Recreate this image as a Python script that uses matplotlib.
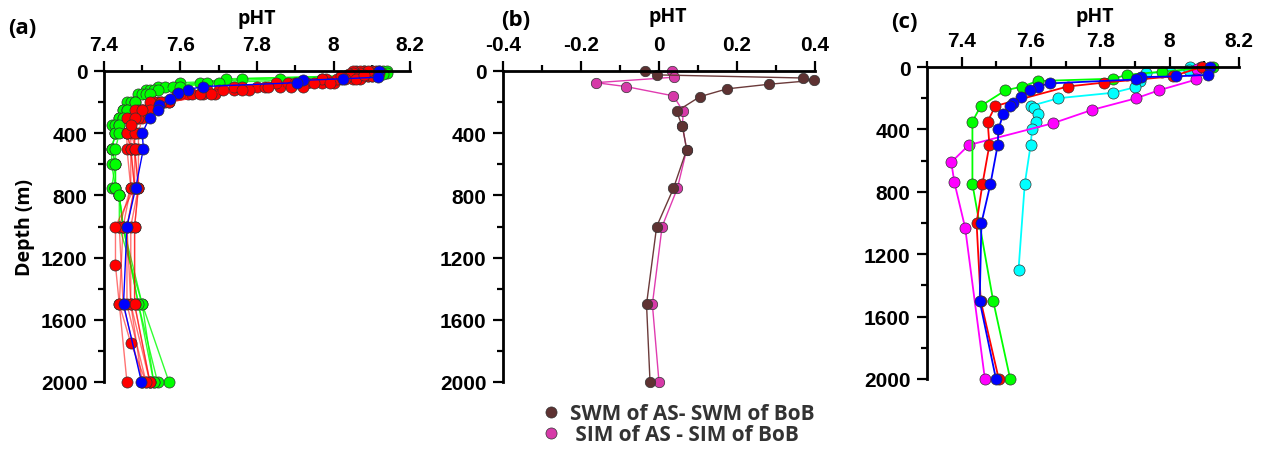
import matplotlib
matplotlib.use("Agg")
import matplotlib.pyplot as plt
from matplotlib.lines import Line2D
from matplotlib.ticker import MultipleLocator, FormatStrFormatter

# ---------------- panel (a): individual profiles ----------------
red_depth = [0, 10, 20, 30, 50, 75, 100, 125, 150, 200, 250, 300, 400, 500, 750, 1000, 1500, 2000]
red_profiles = [
    [8.08, 8.08, 8.07, 8.06, 8.02, 7.93, 7.80, 7.70, 7.62, 7.54, 7.50, 7.48, 7.47, 7.47, 7.48, 7.46, 7.46, 7.51],
    [8.10, 8.10, 8.09, 8.08, 8.05, 7.97, 7.86, 7.74, 7.66, 7.56, 7.51, 7.49, 7.48, 7.48, 7.49, 7.47, 7.47, 7.52],
    [8.06, 8.06, 8.05, 8.03, 7.98, 7.88, 7.76, 7.67, 7.60, 7.53, 7.49, 7.47, 7.46, 7.46, 7.47, 7.44, 7.45, 7.50],
    [8.11, 8.11, 8.10, 8.09, 8.07, 8.00, 7.92, 7.78, 7.69, 7.57, 7.52, 7.50, 7.49, 7.49, 7.49, 7.48, 7.48, 7.52],
    [8.07, 8.07, 8.06, 8.05, 8.01, 7.90, 7.82, 7.71, 7.63, 7.55, 7.50, 7.47, 7.46, 7.47, 7.47, 7.45, 7.44, 7.46],
    [8.05, 8.05, 8.04, 8.02, 7.97, 7.85, 7.74, 7.66, 7.59, 7.52, 7.48, 7.46, 7.46, 7.47, 7.48, 7.46, 7.47, 7.50],
    [8.12, 8.12, 8.11, 8.10, 8.06, 7.99, 7.89, 7.76, 7.68, 7.57, 7.52, 7.49, 7.48, 7.48, 7.49, 7.48, 7.48, 7.52],
]
red_extra_depth = [0, 25, 50, 75, 100, 150, 200, 250, 300, 350, 500, 750, 1000, 1250, 1500, 1750, 2000]
red_extra = [8.09, 8.08, 8.03, 7.95, 7.83, 7.65, 7.55, 7.50, 7.48, 7.47, 7.48, 7.48, 7.43, 7.43, 7.44, 7.47, 7.51]

green_depth = [0, 10, 20, 30, 50, 75, 100, 125, 150, 200, 250, 300, 350, 400, 500, 600, 750, 800, 1000, 1500, 2000]
green_profiles = [
    [8.13, 8.13, 8.12, 8.10, 7.86, 7.60, 7.54, 7.51, 7.49, 7.46, 7.45, 7.44, 7.42, 7.43, 7.42, 7.43, 7.42, 7.44, 7.45, 7.50, 7.57],
    [8.14, 8.14, 8.13, 8.09, 7.72, 7.65, 7.56, 7.52, 7.50, 7.47, 7.45, 7.44, 7.43, 7.43, 7.42, 7.43, 7.43, 7.44, 7.45, 7.49, 7.54],
    [8.10, 8.10, 8.09, 8.04, 7.76, 7.67, 7.58, 7.53, 7.51, 7.48, 7.46, 7.45, 7.44, 7.43, 7.42, 7.42, 7.43, 7.44, 7.44, 7.50, 7.53],
    [8.08, 8.08, 8.06, 8.03, 7.97, 7.70, 7.60, 7.54, 7.52, 7.48, 7.46, 7.45, 7.44, 7.44, 7.43, 7.43, 7.43, 7.44, 7.45, 7.49, 7.53],
]

blue_depth_a = [0, 40, 50, 60, 75, 100, 120, 140, 180, 220, 250, 300, 400, 500, 750, 1000, 1500, 2000]
blue_a = [8.118, 8.117, 8.024, 7.92, 7.905, 7.658, 7.619, 7.594, 7.572, 7.545, 7.54, 7.519,
          7.50, 7.503, 7.483, 7.46, 7.451, 7.498]

# ---------------- panel (b): differences ----------------
swm_depth = [0, 25, 45, 60, 85, 115, 165, 260, 355, 505, 755, 1000, 1500, 2000]
swm_diff = [-0.036, -0.006, 0.370, 0.398, 0.283, 0.174, 0.105, 0.045, 0.060, 0.071, 0.037, -0.006, -0.032, -0.023]
sim_depth = [0, 40, 75, 100, 160, 260, 355, 505, 755, 1000, 1500, 2000]
sim_diff = [0.034, 0.038, -0.162, -0.085, 0.037, 0.062, 0.060, 0.071, 0.047, 0.008, -0.017, 0.0]
legend_labels = ["SWM of AS- SWM of BoB", " SIM of AS - SIM of BoB"]

# ---------------- panel (c): mean profiles ----------------
red_c_depth = [0, 60, 100, 125, 250, 350, 500, 750, 1000, 1500, 2000]
red_c = [8.092, 8.009, 7.81, 7.706, 7.497, 7.475, 7.48, 7.46, 7.443, 7.455, 7.507]
green_c_depth = [0, 30, 50, 75, 90, 125, 150, 250, 350, 750, 1000, 1500, 2000]
green_c = [8.126, 7.978, 7.878, 7.837, 7.619, 7.575, 7.526, 7.455, 7.431, 7.431, 7.451, 7.491, 7.54]
blue_c_depth = [0, 50, 60, 65, 80, 105, 125, 150, 190, 230, 250, 300, 400, 500, 750, 1000, 1500, 2000]
blue_c = [8.116, 8.111, 8.019, 7.917, 7.902, 7.655, 7.62, 7.596, 7.572, 7.548, 7.54, 7.52,
          7.506, 7.504, 7.483, 7.457, 7.452, 7.499]
cyan_c_depth = [0, 20, 30, 40, 90, 130, 165, 200, 250, 260, 300, 350, 400, 500, 750, 1300]
cyan_c = [8.058, 8.055, 8.002, 7.931, 7.914, 7.90, 7.837, 7.679, 7.599, 7.61, 7.62, 7.615,
          7.603, 7.599, 7.582, 7.564]
magenta_c_depth = [0, 10, 80, 150, 200, 275, 360, 500, 610, 740, 1030, 2000]
magenta_c = [8.09, 8.08, 8.077, 7.968, 7.904, 7.776, 7.664, 7.421, 7.37, 7.379, 7.41, 7.467]

TICK_FONT = ['Liberation Sans', 'DejaVu Sans']
LABEL_FONT = ['Open Sans', 'DejaVu Sans']

fig = plt.figure(figsize=(12.64, 4.52), dpi=100)
W, H = 1264, 452


def make_axes(left, top, right, bottom, xlim, xticks, xminor, title_xy):
    ax = fig.add_axes([left / W, 1 - bottom / H, (right - left) / W, (bottom - top) / H])
    ax.set_xlim(*xlim)
    ax.set_ylim(2000, 0)
    ax.xaxis.set_ticks_position('top')
    for s in ['right', 'bottom']:
        ax.spines[s].set_visible(False)
    for s in ['top', 'left']:
        ax.spines[s].set_linewidth(2)
    ax.set_xticks(xticks)
    ax.xaxis.set_minor_locator(MultipleLocator(xminor))
    ax.yaxis.set_major_locator(MultipleLocator(400))
    ax.yaxis.set_minor_locator(MultipleLocator(200))
    ax.xaxis.set_major_formatter(FormatStrFormatter('%g'))
    ax.tick_params(which='major', direction='out', length=7, width=1.6, pad=5)
    ax.tick_params(which='minor', direction='out', length=4, width=1.6)
    for lab in ax.get_xticklabels() + ax.get_yticklabels():
        lab.set_fontfamily(TICK_FONT)
        lab.set_fontweight('bold')
        lab.set_fontsize(15)
    # axis title placed above the tick labels
    fig.text(title_xy[0] / W, 1 - title_xy[1] / H, 'pHT', ha='center', va='center',
             fontsize=14, fontweight='bold', family=LABEL_FONT)
    return ax


def profile(ax, x, y, color, lcolor=None, ms=8, lw=1.0):
    ax.plot(x, y, '-o', color=lcolor if lcolor else color, markerfacecolor=color,
            markeredgecolor='#333333', markeredgewidth=0.5, ms=ms, lw=lw, clip_on=False)


# (a)
ax_a = make_axes(104, 72, 410, 383, (7.4, 8.2), [7.4, 7.6, 7.8, 8.0, 8.2], 0.1, (257, 19))
for vals in green_profiles:
    profile(ax_a, vals, green_depth, '#00ff00', lcolor=(0, 1, 0, 0.8))
for vals in red_profiles:
    profile(ax_a, vals, red_depth, '#ff0000', lcolor=(1, 0, 0, 0.55))
profile(ax_a, red_extra, red_extra_depth, '#ff0000', lcolor=(1, 0, 0, 0.55))
profile(ax_a, blue_a, blue_depth_a, '#0000ff')
ax_a.set_ylabel('Depth (m)', fontsize=14, fontweight='bold', family=LABEL_FONT, labelpad=4)

# (b)
ax_b = make_axes(503, 72, 815, 383, (-0.4, 0.4), [-0.4, -0.2, 0.0, 0.2, 0.4], 0.1, (668, 17))
brown = '#5e3232'
pink = '#d63aa8'
profile(ax_b, sim_diff, sim_depth, pink, lcolor='#e03cb0', ms=7.5)
profile(ax_b, swm_diff, swm_depth, brown, lcolor='#6b3a3a', ms=7.5)

# (c)
ax_c = make_axes(927, 68, 1239, 380, (7.3, 8.2), [7.4, 7.6, 7.8, 8.0, 8.2], 0.1, (1095, 17))
profile(ax_c, cyan_c, cyan_c_depth, '#00ffff', lw=1.3)
profile(ax_c, magenta_c, magenta_c_depth, '#ff00ff', lw=1.3)
profile(ax_c, green_c, green_c_depth, '#00ff00', lw=1.3)
profile(ax_c, red_c, red_c_depth, '#ff0000', lw=1.3)
profile(ax_c, blue_c, blue_c_depth, '#0000ff', lw=1.3)

# panel letters
for txt, x, y in [('(a)', 22, 29), ('(b)', 516, 21), ('(c)', 904, 23)]:
    fig.text(x / W, 1 - y / H, txt, ha='center', va='center', fontsize=16,
             fontweight='bold', family=LABEL_FONT)

# legend under panel (b)
handles = [Line2D([], [], marker='o', ls='none', markerfacecolor=brown, markeredgecolor='#333333',
                  markeredgewidth=0.5, ms=8),
           Line2D([], [], marker='o', ls='none', markerfacecolor=pink, markeredgecolor='#333333',
                  markeredgewidth=0.5, ms=8)]
fig.legend(handles, legend_labels, loc='center left', bbox_to_anchor=(522 / W, 1 - 425 / H),
           frameon=False, handlelength=1.0, handletextpad=0.4, labelspacing=0.0,
           prop={'family': LABEL_FONT, 'weight': 'bold', 'size': 15}, labelcolor='#333333')

fig.savefig('out.png', dpi=100)
